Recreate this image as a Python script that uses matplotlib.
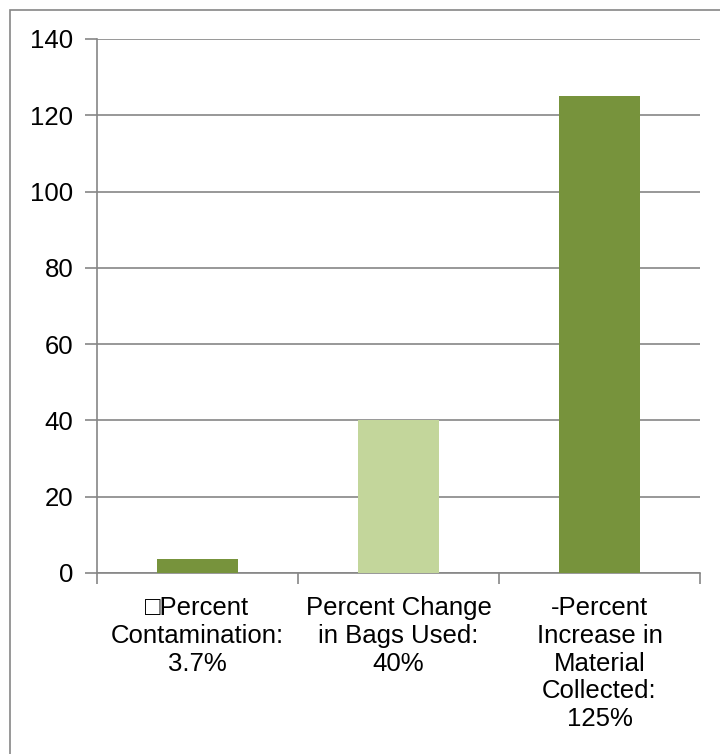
import matplotlib.pyplot as plt
from matplotlib.patches import Rectangle

categories = ['\u25a1Percent\nContamination:\n3.7%',
              'Percent Change\nin Bags Used:\n40%',
              '-Percent\nIncrease in\nMaterial\nCollected:\n125%']
values = [3.7, 40, 125]
colors = ['#77933C', '#C3D69B', '#77933C']
yticks = [0, 20, 40, 60, 80, 100, 120, 140]

plt.rcParams['font.family'] = ['Liberation Sans', 'DejaVu Sans']

W, H = 720, 754
fig = plt.figure(figsize=(W / 100, H / 100), dpi=100)
# outer chart border (cut off at right and bottom)
fig.patches.append(Rectangle((10 / W, -0.1), 1.1, 1 - 10 / H + 0.1,
                             transform=fig.transFigure, fill=False,
                             edgecolor='#868686', linewidth=1.2))

ax = fig.add_axes([97 / W, (H - 573) / H, (700 - 97) / W, (573 - 39) / H])
x = range(len(values))
ax.bar(x, values, width=0.4, color=colors, zorder=3)

ax.set_xlim(-0.5, 2.5)
ax.set_ylim(0, 140)
ax.set_yticks(yticks)
ax.set_yticklabels([str(t) for t in yticks], fontsize=18.5)
ax.yaxis.grid(True, color='#868686', linewidth=1.2, zorder=0)

ax.set_xticks([-0.5, 0.5, 1.5, 2.5])
ax.set_xticklabels([])
ax.set_xticks(list(x), minor=True)
ax.set_xticklabels(categories, minor=True, fontsize=18.5, linespacing=1.2, va='top')
ax.tick_params(axis='x', which='minor', length=0, pad=16.5)
ax.tick_params(axis='x', which='major', length=8, width=1.2, color='#868686')
ax.tick_params(axis='y', length=9, width=1.2, color='#868686', pad=8)

for s in ['top', 'right']:
    ax.spines[s].set_visible(False)
for s in ['left', 'bottom']:
    ax.spines[s].set_color('#868686')
    ax.spines[s].set_linewidth(1.2)

fig.savefig('out.png', dpi=100)
